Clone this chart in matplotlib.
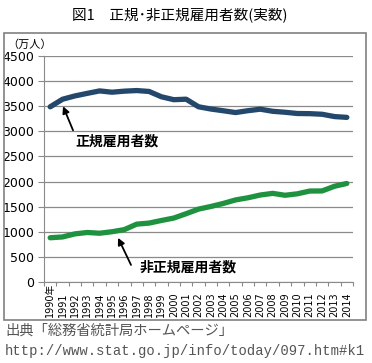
import matplotlib
matplotlib.use("Agg")
import matplotlib.pyplot as plt
import matplotlib.transforms as mtransforms
from matplotlib.patches import Rectangle

plt.rcParams['font.family'] = ['DejaVu Sans', 'Noto Sans CJK JP']

years = list(range(1990, 2015))
year_labels = ['1990年'] + [str(y) for y in years[1:]]
regular = [3488, 3639, 3705, 3756, 3805, 3779, 3800, 3812, 3794, 3688,
           3630, 3640, 3489, 3444, 3410, 3374, 3411, 3441, 3399, 3380,
           3355, 3352, 3340, 3294, 3278]
non_regular = [881, 897, 958, 986, 971, 1001, 1043, 1152, 1173, 1225,
               1273, 1360, 1451, 1504, 1564, 1634, 1677, 1732, 1765, 1727,
               1756, 1811, 1813, 1906, 1962]
y_ticks = [0, 500, 1000, 1500, 2000, 2500, 3000, 3500, 4000, 4500]

W, H = 372, 363
fig = plt.figure(figsize=(W / 100, H / 100), dpi=100)


def fx(px):
    return px / W


def fy(py):
    return 1 - py / H


jp = ['Noto Sans CJK JP', 'DejaVu Sans']

fig.text(fx(180), fy(15), '図1　正規･非正規雇用者数(実数)', ha='center', va='center',
         fontsize=10.5, family=jp)
fig.text(fx(7), fy(45), '（万人）', ha='left', va='center', fontsize=8, family=jp)

ax = fig.add_axes([fx(44), fy(282), fx(353 - 44), (282 - 56) / H])
ax.patch.set_alpha(0)

# chart frame, drawn by the axes in figure coordinates
frame = Rectangle((fx(4), fy(320)), fx(362), (320 - 33) / H,
                  transform=fig.transFigure, fill=False, clip_on=False,
                  edgecolor='#808080', linewidth=1.2, zorder=5)
ax.add_patch(frame)

x = list(range(len(years)))
ax.plot(x, regular, color='#24486b', linewidth=3.8, solid_capstyle='round')
ax.plot(x, non_regular, color='#1f9240', linewidth=3.8, solid_capstyle='round')

ax.set_ylim(0, 4500)
ax.set_xlim(-0.5, len(years) - 0.5)
ax.set_yticks(y_ticks)
ax.set_yticklabels([str(v) for v in y_ticks], fontsize=9)
ax.yaxis.grid(True, color='#8a8a8a', linewidth=0.9)
ax.set_axisbelow(True)
ax.set_xticks([i - 0.5 for i in range(len(years) + 1)])
ax.set_xticklabels([])
ax.tick_params(axis='x', length=3, color='#8a8a8a')
ax.tick_params(axis='y', length=4, color='#8a8a8a', pad=3)
for s in ['top', 'right']:
    ax.spines[s].set_visible(False)
for s in ['left', 'bottom']:
    ax.spines[s].set_color('#8a8a8a')

trans = mtransforms.blended_transform_factory(ax.transData, ax.transAxes)
for i, lab in enumerate(year_labels):
    ax.text(i, -(317 - 282) / 226, lab, rotation=90, ha='center', va='bottom',
            fontsize=7, transform=trans, family=['DejaVu Sans', 'Noto Sans CJK JP'])

# labels with arrows
arrow = dict(arrowstyle='-|>', color='black', lw=1.3, shrinkA=0, shrinkB=0,
             mutation_scale=10)
ax.annotate('', xy=(1.04, 3500), xytext=(1.85, 3020), arrowprops=arrow)
ax.text(2.0, 2790, '正規雇用者数', fontsize=10, fontweight='bold', family=jp,
        ha='left', va='center')
ax.annotate('', xy=(5.49, 880), xytext=(6.54, 340), arrowprops=arrow)
ax.text(7.27, 280, '非正規雇用者数', fontsize=10, fontweight='bold', family=jp,
        ha='left', va='center')

fig.text(fx(5), fy(331), '出典「総務省統計局ホームページ」', ha='left', va='center',
         fontsize=10.3, color='#555555', family=jp)
fig.text(fx(5), fy(351), 'http://www.stat.go.jp/info/today/097.htm#k1', ha='left',
         va='center', fontsize=10, color='#555555', family='Liberation Mono')

fig.savefig('out.png', dpi=100)
